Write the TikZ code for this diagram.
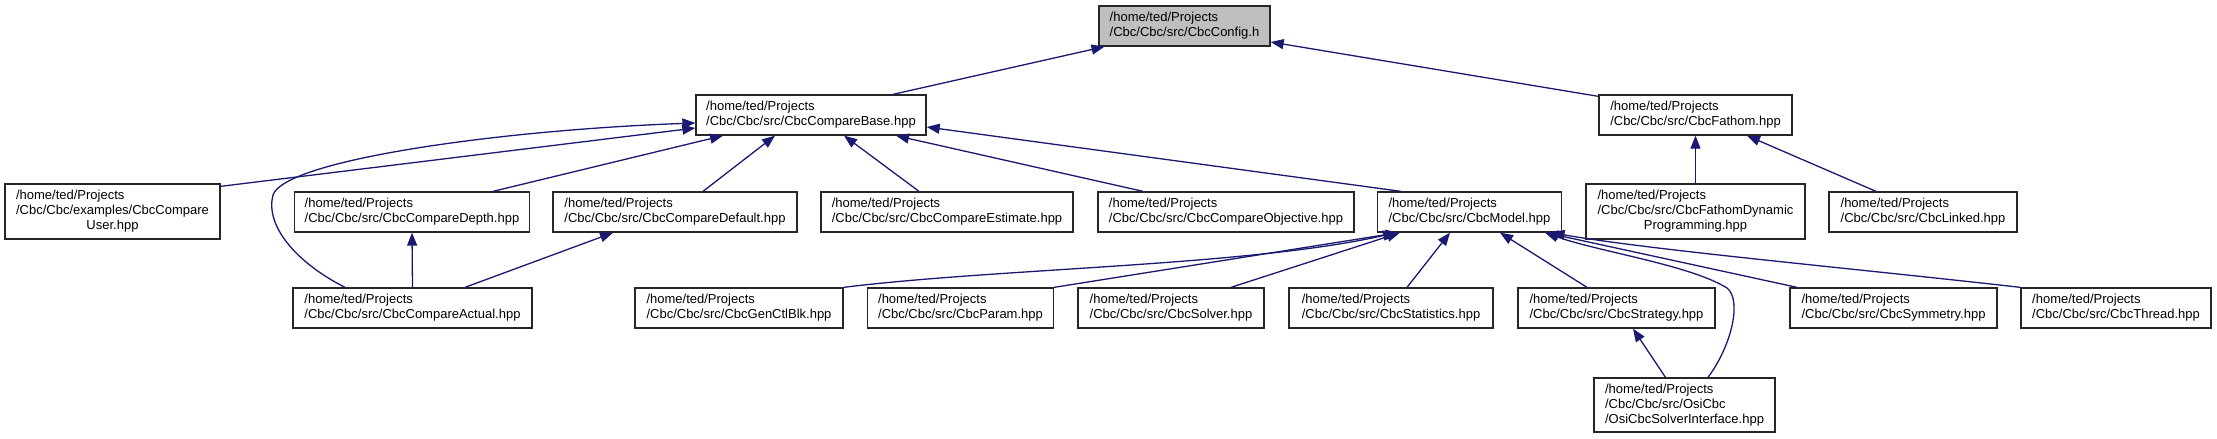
\documentclass[tikz,border=0pt]{standalone}
\usepackage{fontspec}
\setmainfont{Liberation Sans}
\usetikzlibrary{arrows.meta}
\definecolor{mblue}{RGB}{25,25,112}
\definecolor{cfgfill}{RGB}{191,191,191}
\newcommand{\twol}[2]{\begin{tabular}{@{}l@{}}#1\\#2\end{tabular}}
\newcommand{\threec}[3]{\begin{tabular}{@{}l@{}}#1\\#2\\\multicolumn{1}{@{}c@{}}{#3}\end{tabular}}
\newcommand{\hp}{/home/ted/Projects}
\tikzset{
  box/.style={draw=black!85, line width=1.3pt, fill=white, inner sep=0pt,
    font=\fontsize{13}{15}\selectfont, minimum height=40pt},
  tall/.style={minimum height=55pt},
  edge/.style={draw=mblue, line width=1.3pt, -{Triangle[length=13pt,width=10pt]}},
}
\begin{document}
\begin{tikzpicture}[x=1pt,y=-1pt]
\useasboundingbox[fill=white] (0,0) rectangle (2217,439);
% row 0
\node[box, fill=cfgfill, minimum width=171pt] (conf) at (1184.5,26) {\twol{\hp}{/Cbc/Cbc/src/CbcConfig.h}};
% row 1
\node[box, minimum width=230pt] (base) at (811,115) {\twol{\hp}{/Cbc/Cbc/src/CbcCompareBase.hpp}};
\node[box, minimum width=193pt] (fath) at (1695.5,115) {\twol{\hp}{/Cbc/Cbc/src/CbcFathom.hpp}};
% row 2
\node[box, tall, minimum width=215pt] (user) at (112.5,211.5) {\threec{\hp}{/Cbc/Cbc/examples/CbcCompare}{User.hpp}};
\node[box, minimum width=235pt] (depth) at (412,212) {\twol{\hp}{/Cbc/Cbc/src/CbcCompareDepth.hpp}};
\node[box, minimum width=244pt] (deflt) at (675,212) {\twol{\hp}{/Cbc/Cbc/src/CbcCompareDefault.hpp}};
\node[box, minimum width=252pt] (estim) at (947,212) {\twol{\hp}{/Cbc/Cbc/src/CbcCompareEstimate.hpp}};
\node[box, minimum width=256pt] (objct) at (1226,212) {\twol{\hp}{/Cbc/Cbc/src/CbcCompareObjective.hpp}};
\node[box, minimum width=184pt] (model) at (1469.5,212) {\twol{\hp}{/Cbc/Cbc/src/CbcModel.hpp}};
\node[box, tall, minimum width=219pt] (fdyn) at (1695.5,211.5) {\threec{\hp}{/Cbc/Cbc/src/CbcFathomDynamic}{Programming.hpp}};
\node[box, minimum width=188pt] (linkd) at (1923,212) {\twol{\hp}{/Cbc/Cbc/src/CbcLinked.hpp}};
% row 3
\node[box, minimum width=239pt] (actual) at (412.5,308) {\twol{\hp}{/Cbc/Cbc/src/CbcCompareActual.hpp}};
\node[box, minimum width=208pt] (genctl) at (739,308) {\twol{\hp}{/Cbc/Cbc/src/CbcGenCtlBlk.hpp}};
\node[box, minimum width=186pt] (param) at (960.5,308) {\twol{\hp}{/Cbc/Cbc/src/CbcParam.hpp}};
\node[box, minimum width=186pt] (solver) at (1171,308) {\twol{\hp}{/Cbc/Cbc/src/CbcSolver.hpp}};
\node[box, minimum width=204pt] (stats) at (1391,308) {\twol{\hp}{/Cbc/Cbc/src/CbcStatistics.hpp}};
\node[box, minimum width=197pt] (strat) at (1616.5,308) {\twol{\hp}{/Cbc/Cbc/src/CbcStrategy.hpp}};
\node[box, minimum width=207pt] (symm) at (1893.5,308) {\twol{\hp}{/Cbc/Cbc/src/CbcSymmetry.hpp}};
\node[box, minimum width=190pt] (thread) at (2116,308) {\twol{\hp}{/Cbc/Cbc/src/CbcThread.hpp}};
% row 4
\node[box, minimum height=54pt, minimum width=181pt] (osi) at (1684.5,405) {\begin{tabular}{@{}l@{}}\hp\\/Cbc/Cbc/src/OsiCbc\\/OsiCbcSolverInterface.hpp\end{tabular}};
% edges
\draw[edge] ([xshift=82pt]base.north) -- ([xshift=-80pt]conf.south);
\draw[edge] ([yshift=-2pt]fath.north west) -- ([yshift=-16pt]conf.east);
\draw[edge] ([yshift=-3pt]user.north east) -- ([yshift=-13pt]base.west);
\draw[edge] ([xshift=-67.5pt]actual.north) .. controls (295,262) and (265,225) .. (273,195)
   .. controls (285,160) and (500,130) .. ([yshift=-8pt]base.west);
\draw[edge] ([xshift=81pt]depth.north) -- ([xshift=-88pt]base.south);
\draw[edge] ([xshift=28pt]deflt.north) -- ([xshift=-36pt]base.south);
\draw[edge] ([xshift=-28pt]estim.north) -- ([xshift=33pt]base.south);
\draw[edge] ([xshift=-83pt]objct.north) -- ([xshift=85pt]base.south);
\draw[edge] ([xshift=-68.5pt]model.north) -- ([yshift=-12pt]base.east);
\draw[edge] (actual.north) -- (depth.south);
\draw[edge] ([xshift=52.5pt]actual.north) -- ([xshift=-62pt]deflt.south);
\draw[edge] (fdyn.north) -- (fath.south);
\draw[edge] ([xshift=-47pt]linkd.north) -- ([xshift=51.5pt]fath.south);
\draw[edge] (genctl.north east) .. controls (1000,268) and (1250,266) .. ([xshift=-73.5pt]model.south);
\draw[edge] (param.north east) -- ([xshift=-71pt]model.south);
\draw[edge] ([xshift=60pt]solver.north) -- ([xshift=-69.5pt]model.south);
\draw[edge] ([xshift=16pt]stats.north) -- ([xshift=-19.5pt]model.south);
\draw[edge] ([xshift=-29.5pt]strat.north) -- ([xshift=30.5pt]model.south);
\draw[edge] ([xshift=23.5pt]osi.north) .. controls (1732,345) and (1742,300) .. (1727,288)
   .. controls (1690,265) and (1600,252) .. ([xshift=75.5pt]model.south);
\draw[edge] ([xshift=-96.5pt]symm.north) -- ([xshift=76pt]model.south);
\draw[edge] (thread.north west) .. controls (1850,268) and (1650,250) .. ([xshift=82pt]model.south);
\draw[edge] ([xshift=-19pt]osi.north) -- ([xshift=16.5pt]strat.south);
\end{tikzpicture}
\end{document}
